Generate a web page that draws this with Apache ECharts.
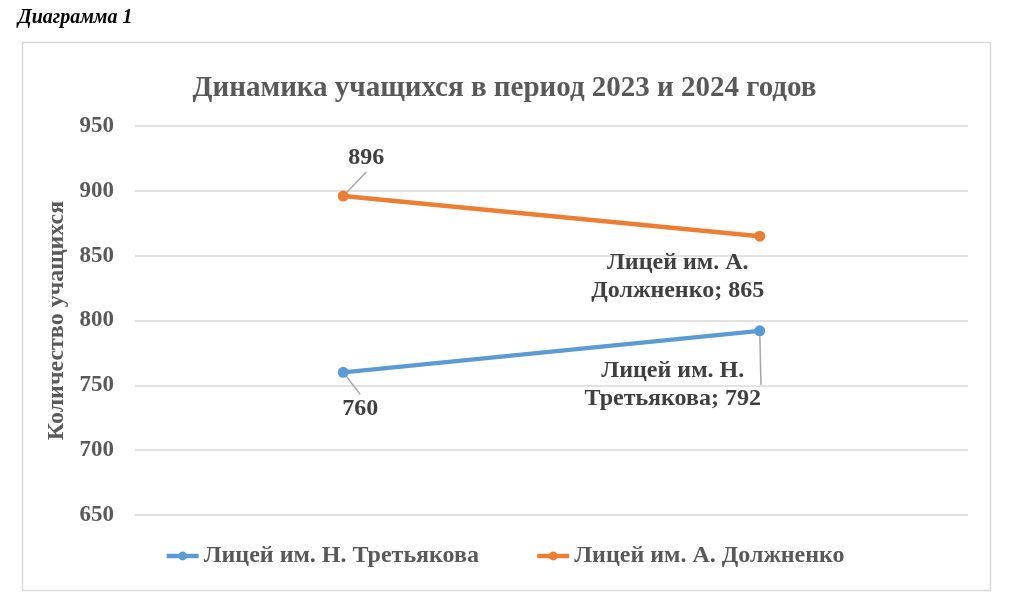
<!DOCTYPE html>
<html>
<head>
<meta charset="utf-8">
<script src="https://cdn.jsdelivr.net/npm/echarts@6/dist/echarts.min.js"></script>
<style>
  html, body { margin: 0; padding: 0; background: #fff; }
  #chart { width: 1009px; height: 607px; }
</style>
</head>
<body>
<div id="chart"></div>
<script>
// данные диаграммы
const years = ["2023", "2024"];
const tretyakov = [760, 792];
const dolzhenko = [896, 865];
const seriesNames = ["Лицей им. Н. Третьякова", "Лицей им. А. Должненко"];

const font = "'Liberation Serif', 'Times New Roman', serif";

// смещения подписей относительно точек
const labelShift = {
  0: [{ dx: 17, dy: 36 }, { dx: -87, dy: 54 }],
  1: [{ dx: 23, dy: -38 }, { dx: -82, dy: 41 }]
};

const chart = echarts.init(document.getElementById("chart"));

const makeSeries = (idx, data, color) => ({
  name: seriesNames[idx],
  type: "line",
  data: data.map((v, i) => ({
    value: v,
    // у подписи 865 выноски нет
    labelLine: { show: !(idx === 1 && i === 1) }
  })),
  symbol: "circle",
  symbolSize: 11,
  itemStyle: { color: color },
  lineStyle: { color: color, width: 4.5 },
  label: {
    show: true,
    position: "inside",
    align: "center",
    verticalAlign: "middle",
    fontFamily: font,
    fontWeight: "bold",
    fontSize: 24,
    lineHeight: 28,
    color: "#404040",
    formatter: p => p.dataIndex === 0 ? String(p.value) : (idx === 0 ? "Лицей им. Н.\nТретьякова; " : "Лицей им. А.\nДолжненко; ") + p.value
  },
  labelLine: { show: true, lineStyle: { color: "#a6a6a6", width: 1.5 } },
  labelLayout: p => labelShift[idx][p.dataIndex]
});

chart.setOption({
  animation: false,
  title: {
    text: "Динамика учащихся в период 2023 и 2024 годов",
    left: "center",
    top: 69,
    textStyle: { fontFamily: font, fontWeight: "bold", fontSize: 29, color: "#595959" }
  },
  legend: {
    bottom: 34,
    left: "center",
    itemWidth: 32,
    itemHeight: 11,
    itemGap: 56,
    lineStyle: { width: 4.5 },
    textStyle: { fontFamily: font, fontWeight: "bold", fontSize: 24, color: "#595959" },
    data: seriesNames
  },
  grid: { left: 135, right: 41, top: 126, bottom: 92 },
  xAxis: {
    type: "category",
    data: years,
    axisLine: { show: false },
    axisTick: { show: false },
    axisLabel: { show: false }
  },
  yAxis: {
    type: "value",
    min: 650,
    max: 950,
    interval: 50,
    name: "Количество учащихся",
    nameLocation: "middle",
    nameGap: 59,
    nameTextStyle: { fontFamily: font, fontWeight: "bold", fontSize: 24, color: "#595959" },
    axisLabel: { fontFamily: font, fontWeight: "bold", fontSize: 23, color: "#595959", margin: 21 },
    splitLine: { lineStyle: { color: "#d9d9d9", width: 1.5 } }
  },
  graphic: [
    {
      type: "text",
      left: 18,
      top: 8,
      style: { text: "Диаграмма 1", font: "italic bold 20px 'Liberation Serif', serif", fill: "#000" }
    },
    {
      type: "rect",
      left: 20,
      top: 40,
      shape: { width: 968, height: 548 },
      style: { fill: "none", stroke: "#d9d9d9", lineWidth: 1.5 },
      z: -1
    }
  ],
  series: [
    makeSeries(0, tretyakov, "#5B9BD5"),
    makeSeries(1, dolzhenko, "#ED7D31")
  ]
});
</script>
</body>
</html>
